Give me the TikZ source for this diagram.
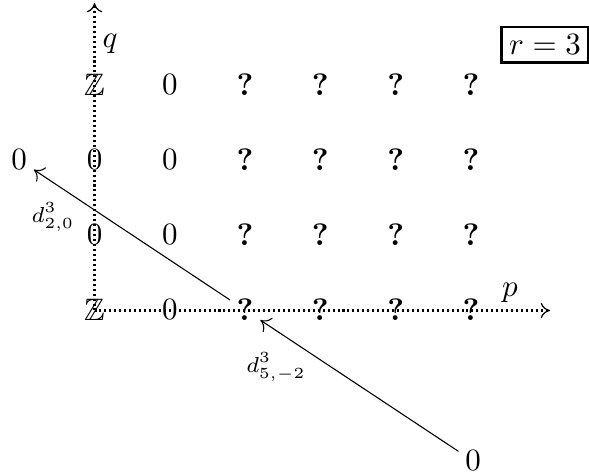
\documentclass[tikz,border=0pt]{standalone}
\usepackage{amssymb}
\usetikzlibrary{arrows.meta}
\begin{document}
\begin{tikzpicture}[x=0.3226pt,y=-0.3226pt,
  ent/.style={inner sep=2pt},
  ax/.style={line width=0.65pt, dash pattern=on 0.65pt off 0.95pt, -{To[length=3pt,width=5pt,line width=0.4pt]}},
  dif/.style={line width=0.35pt, -{To[length=3pt,width=5.5pt]}},
  lab/.style={font=\scriptsize}]
\useasboundingbox (0,0) rectangle (589,475);
\coordinate (O) at (94.5,310.5);
\coordinate (qtop) at (94.5,3);
\coordinate (pend) at (550,310.5);
\draw[ax] (O) -- (qtop);
\draw[ax] (O) -- (pend);
\node[ent] (a03) at (94.5,85) {$\mathbb{Z}$};
\node[ent] (a02) at (94.5,160) {$0$};
\node[ent] (a01) at (94.5,235) {$0$};
\node[ent] (a00) at (94.5,310) {$\mathbb{Z}$};
\foreach \q/\y in {3/85,2/160,1/235,0/310} {
  \node[ent] (a1\q) at (169.8,\y) {$0$};
  \foreach \p/\x in {2/245.1,3/320.4,4/395.7,5/471}
    \node[ent] (a\p\q) at (\x,\y) {\textbf{?}};
}
\node[ent] (left) at (19.2,160) {$0$};
\node[ent] (right) at (473,461) {$0$};
\draw[dif] (a20) -- (left);
\draw[dif] (right) -- (a20);
\node[lab] (l1) at (53,217) {$d^3_{2,0}$};
\node[lab] (l2) at (276,367) {$d^3_{5,-2}$};
\node (q) at (110,44) {$q$};
\node (p) at (510,293) {$p$};
\node[draw, line width=0.8pt, inner sep=2.5pt] (r) at (545,45) {$r=3$};
\end{tikzpicture}
\end{document}
